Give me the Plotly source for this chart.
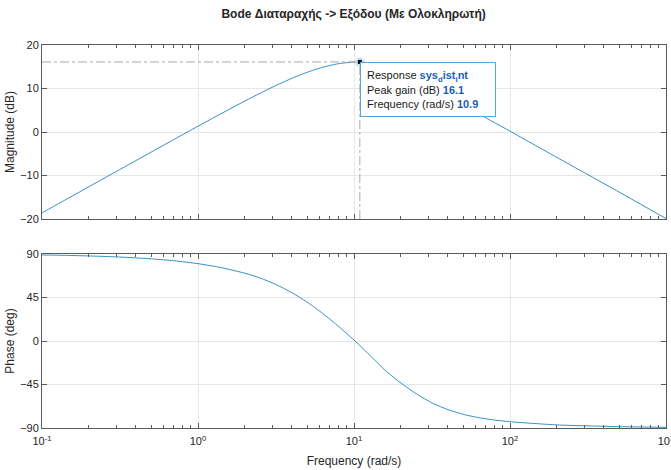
import numpy as np
import plotly.graph_objects as go
from plotly.subplots import make_subplots

# ---- data ----
freq_mag = [0.1, 0.13, 0.18, 0.25, 0.35, 0.5, 0.7, 1, 1.4, 2, 2.5, 3.2, 4, 5, 6.3, 8,
            10, 10.9, 12.6, 16, 20, 25, 32, 40, 50, 63, 80, 100, 200, 500, 1000]
magnitude_db = [-18.6, -16.32, -13.49, -10.64, -7.73, -4.64, -1.73, 1.33, 4.18, 7.13,
                8.91, 10.79, 12.34, 13.72, 14.88, 15.72, 16.09, 16.1, 15.9, 14.9,
                13.6, 12.0, 10.0, 8.1, 6.2, 4.2, 2.1, 0.2, -5.85, -13.8, -19.9]

freq_phase = [0.1, 0.13, 0.18, 0.25, 0.35, 0.5, 0.7, 1, 1.4, 2, 2.5, 3.2, 4, 5, 6.3, 8,
              10, 10.9, 12.6, 16, 20, 25, 32, 40, 50, 63, 80, 100, 200, 500, 1000]
phase_deg = [89.0, 88.7, 88.2, 87.5, 86.5, 85.0, 83.0, 80.0, 76.0, 70.1, 65.2, 58.0,
             50.0, 40.3, 28.5, 14.8, 1.0, -4.7, -14.5, -31.0, -43.5, -54.5, -64.5,
             -71.0, -75.8, -79.3, -81.8, -83.5, -86.8, -88.6, -89.3]

peak_freq = 10.9
peak_gain = 16.1

mag_ticks = [-20, -10, 0, 10, 20]
phase_ticks = [-90, -45, 0, 45, 90]
x_ticks = [0.1, 1, 10, 100, 1000]
x_ticktext = ["10<sup>-1</sup>", "10<sup>0</sup>", "10<sup>1</sup>", "10<sup>2</sup>", "10<sup>3</sup>"]
x_minor = [m * d for d in [0.1, 1, 10, 100] for m in range(2, 10)]

title_text = "Bode Διαταραχής -> Εξόδου (Με Ολοκληρωτή)"

# ---- styling ----
FONT = "Liberation Sans, Arial, Helvetica, sans-serif"
LINE = "#0072BD"
AX = "#5a5a5a"
GRID = "#e6e6e6"
TXT = "#262626"

fig = make_subplots(rows=2, cols=1, shared_xaxes=False)

fig.add_trace(go.Scatter(x=freq_mag, y=magnitude_db, mode="lines",
                         line=dict(color=LINE, width=0.8, shape="spline", smoothing=0.6),
                         showlegend=False, hoverinfo="skip"), row=1, col=1)
fig.add_trace(go.Scatter(x=freq_phase, y=phase_deg, mode="lines",
                         line=dict(color=LINE, width=0.8, shape="spline", smoothing=0.6),
                         showlegend=False, hoverinfo="skip"), row=2, col=1)

# peak reference lines (dash-dot)
fig.add_trace(go.Scatter(x=[freq_mag[0], peak_freq], y=[peak_gain, peak_gain], mode="lines",
                         line=dict(color="#aaaaaa", width=1, dash="dashdot"),
                         showlegend=False, hoverinfo="skip"), row=1, col=1)
fig.add_trace(go.Scatter(x=[peak_freq, peak_freq], y=[mag_ticks[0], peak_gain], mode="lines",
                         line=dict(color="#aaaaaa", width=1, dash="dashdot"),
                         showlegend=False, hoverinfo="skip"), row=1, col=1)
# peak marker
fig.add_trace(go.Scatter(x=[peak_freq], y=[peak_gain], mode="markers",
                         marker=dict(symbol="circle", size=9, color="rgba(200,220,235,0.9)"),
                         showlegend=False, hoverinfo="skip"), row=1, col=1)
fig.add_trace(go.Scatter(x=[peak_freq], y=[peak_gain], mode="markers",
                         marker=dict(symbol="square", size=4, color="#111111"),
                         showlegend=False, hoverinfo="skip"), row=1, col=1)

xcommon = dict(type="log", range=[-1, 3], showline=True, linecolor=AX, linewidth=1,
               mirror="allticks", ticks="inside", ticklen=5, tickcolor=AX,
               tickmode="array", tickvals=x_ticks, showgrid=True, gridcolor=GRID,
               gridwidth=1, zeroline=False, automargin=False,
               minor=dict(tickmode="array", tickvals=x_minor, ticks="inside",
                          ticklen=3, tickcolor=AX, showgrid=False),
               tickfont=dict(family=FONT, size=11, color=TXT))

fig.update_xaxes(**xcommon)
fig.update_xaxes(showticklabels=False, row=1, col=1)
fig.update_xaxes(ticktext=x_ticktext, showticklabels=True, ticklabeloverflow="allow",
                 ticklabelstandoff=3,
                 title=dict(text="Frequency (rad/s)", font=dict(family=FONT, size=12, color=TXT),
                            standoff=10),
                 row=2, col=1)

ycommon = dict(showline=True, linecolor=AX, linewidth=1, mirror="ticks", ticks="inside",
               ticklen=5, tickcolor=AX, showgrid=True, gridcolor=GRID, gridwidth=1,
               zeroline=False, automargin=False,
               tickfont=dict(family=FONT, size=11, color=TXT))
fig.update_yaxes(**ycommon)
fig.update_yaxes(range=[-20, 20], tickmode="array", tickvals=mag_ticks,
                 title=dict(text="Magnitude (dB)", font=dict(family=FONT, size=12, color=TXT),
                            standoff=2),
                 row=1, col=1)
fig.update_yaxes(range=[-90, 90], tickmode="array", tickvals=phase_ticks,
                 title=dict(text="Phase (deg)", font=dict(family=FONT, size=12, color=TXT),
                            standoff=2),
                 row=2, col=1)

fig.update_layout(yaxis=dict(domain=[0.5457, 1.0]), yaxis2=dict(domain=[0.0, 0.4543]))

tip = ("Response <b><span style='color:#1a5fb4'>sys<sub>d</sub>ist<sub>i</sub>nt</span></b><br>"
       "Peak gain (dB) <b><span style='color:#1a5fb4'>%.1f</span></b><br>"
       "Frequency (rad/s) <b><span style='color:#1a5fb4'>%.1f</span></b>" % (peak_gain, peak_freq))
fig.add_annotation(x=np.log10(peak_freq), y=peak_gain, xref="x", yref="y",
                   text=tip, showarrow=False, xanchor="left", yanchor="top",
                   align="left", width=122, height=41, borderpad=6,
                   bordercolor="#55a6dd", borderwidth=1, bgcolor="white",
                   font=dict(family=FONT, size=11, color="#1a1a1a"))

fig.update_layout(
    width=671, height=470,
    margin=dict(l=42, r=5, t=45, b=42),
    paper_bgcolor="white", plot_bgcolor="white",
    title=dict(text="<b>" + title_text + "</b>", x=0.527, xanchor="center",
               y=1 - 14 / 470, yanchor="middle", yref="container",
               font=dict(family=FONT, size=12, color=TXT)),
    font=dict(family=FONT, color=TXT),
)

fig.write_html("out.html", config={"displayModeBar": False},
               post_script="document.body.style.margin='0';document.body.style.overflow='hidden';")
